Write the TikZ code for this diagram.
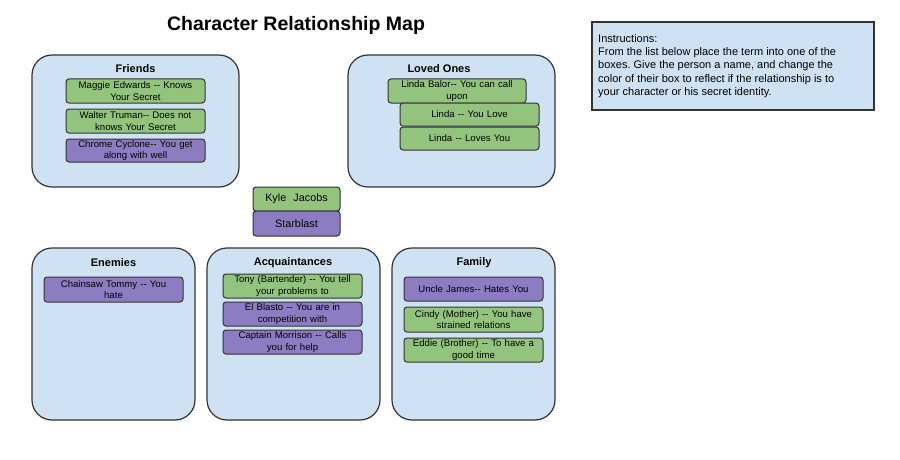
\documentclass[tikz,border=0pt]{standalone}
\usepackage{fontspec}
\setmainfont{Liberation Sans}[Ligatures=NoCommon]
\frenchspacing
\newcommand{\dd}{-{}-}
\definecolor{lblue}{HTML}{CFE2F3}
\definecolor{gfill}{HTML}{93C47D}
\definecolor{pfill}{HTML}{8E7CC3}
\definecolor{edge}{HTML}{333333}
\tikzset{
  group/.style={draw=edge, line width=1.2pt, fill=lblue, rounded corners=20pt, inner sep=0pt},
  grouptitle/.style={font=\fontsize{11}{13}\selectfont\bfseries, inner sep=0pt},
  card/.style={draw=edge, line width=1pt, rounded corners=3pt, minimum width=139pt, minimum height=24pt,
    text width=137pt, align=center, inner sep=0pt, font=\fontsize{9.6}{11.6}\selectfont},
  gcard/.style={card, fill=gfill},
  pcard/.style={card, fill=pfill},
}
\begin{document}
\begin{tikzpicture}[x=1pt,y=-1pt]
\useasboundingbox[fill=white] (0,0) rectangle (900,460);

\node[font=\fontsize{19.5}{23}\selectfont\bfseries] (title) at (296,25) {Character Relationship Map};

% Instructions
\node[draw=edge, line width=1.2pt, fill=lblue, minimum width=282pt, minimum height=88pt, inner sep=0pt] (instr) at (733,66) {};
\node[anchor=north west, align=left, inner sep=0pt, font=\fontsize{11}{13.3}\selectfont] (instrT) at (598,34)
  {Instructions:\\From the list below place the term into one of the\\boxes. Give the person a name, and change the\\color of their box to reflect if the relationship is to\\your character or his secret identity.};

% Friends
\node[group, minimum width=207pt, minimum height=132pt] (friends) at (135.5,121) {};
\node[grouptitle] (friendsT) at (135.5,69) {Friends};
\node[gcard] (maggie) at (135.5,91) {Maggie Edwards \dd{} Knows\\Your Secret};
\node[gcard] (walter) at (135.5,121) {Walter Truman\dd{} Does not\\knows Your Secret};
\node[pcard, minimum height=23pt] (chrome) at (135.5,150.5) {Chrome Cyclone\dd{} You get\\along with well};

% Loved Ones
\node[group, minimum width=207pt, minimum height=132pt] (loved) at (451.5,121) {};
\node[grouptitle] (lovedT) at (439,69) {Loved Ones};
\node[gcard, minimum width=138pt] (balor) at (457,91) {Linda Balor\dd{} You can call\\upon};
\node[gcard, minimum height=23pt] (love) at (469.5,114.5) {Linda \dd{} You Love};
\node[gcard, minimum height=23pt] (loves) at (469.5,138.5) {Linda \dd{} Loves You};

% Center character
\node[gcard, minimum width=87pt, minimum height=24pt, text width=85pt, font=\fontsize{10.8}{12}\selectfont] (kyle) at (296.5,199) {Kyle\ \ Jacobs};
\node[pcard, minimum width=87pt, minimum height=25pt, text width=85pt, font=\fontsize{10.8}{12}\selectfont] (star) at (296.5,223.5) {Starblast};

% Enemies
\node[group, minimum width=163pt, minimum height=172pt] (enemies) at (113.5,334) {};
\node[grouptitle] (enemiesT) at (113.5,263) {Enemies};
\node[pcard, minimum height=25pt] (chainsaw) at (113.5,289.5) {Chainsaw Tommy \dd{} You\\hate};

% Acquaintances
\node[group, minimum width=173pt, minimum height=172pt] (acq) at (293.5,334) {};
\node[grouptitle] (acqT) at (293,263) {Acquaintances};
\node[gcard] (tony) at (292.5,286) {Tony (Bartender) \dd{} You tell\\your problems to};
\node[pcard] (blasto) at (292.5,314) {El Blasto \dd{} You are in\\competition with};
\node[pcard] (captain) at (292.5,342) {Captain Morrison \dd{} Calls\\you for help};

% Family
\node[group, minimum width=163pt, minimum height=172pt] (family) at (473.5,334) {};
\node[grouptitle] (familyT) at (474,263) {Family};
\node[pcard] (uncle) at (473.5,289) {Uncle James\dd{} Hates You};
\node[gcard, minimum height=25pt] (cindy) at (473.5,319.5) {Cindy (Mother) \dd{} You have\\strained relations};
\node[gcard] (eddie) at (473.5,350) {Eddie (Brother) \dd{} To have a\\good time};
\end{tikzpicture}
\end{document}
